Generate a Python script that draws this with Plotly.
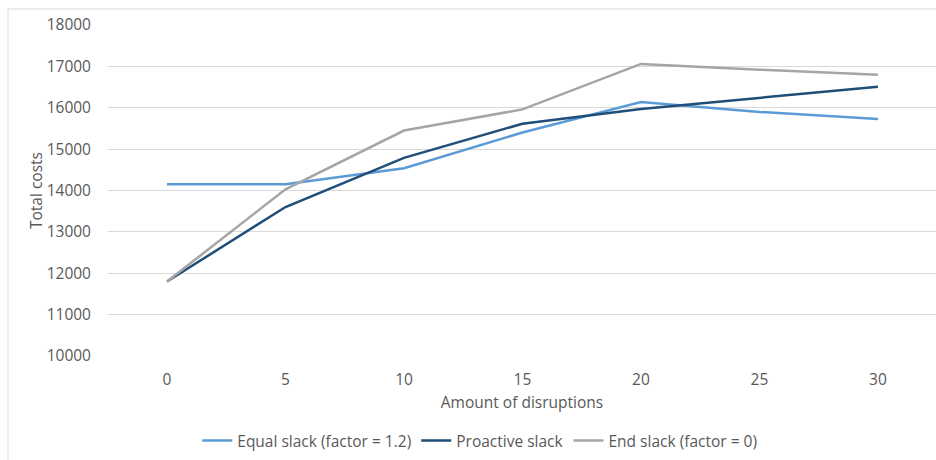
import plotly.graph_objects as go

disruptions = [0, 5, 10, 15, 20, 25, 30]
equal_slack = [14150, 14150, 14540, 15400, 16140, 15900, 15730]
proactive_slack = [11800, 13600, 14790, 15615, 15970, 16240, 16510]
end_slack = [11800, 14030, 15450, 15960, 17060, 16920, 16800]

series = [
    ("Equal slack (factor = 1.2)", equal_slack, "#5B9BD5"),
    ("Proactive slack", proactive_slack, "#1F4E79"),
    ("End slack (factor = 0)", end_slack, "#A5A5A5"),
]

W, H = 936, 460
ml, mr, mt, mb = 108, 0, 25, 104
pw, ph = W - ml - mr, H - mt - mb

fig = go.Figure()
for name, vals, col in series:
    fig.add_trace(go.Scatter(x=disruptions, y=vals, mode="lines", name=name,
                             line=dict(color=col, width=2.5)))

font = "Open Sans, Liberation Sans, sans-serif"
fs = 15.5
fig.update_layout(
    width=W, height=H,
    margin=dict(l=ml, r=mr, t=mt, b=mb, autoexpand=False),
    paper_bgcolor="white", plot_bgcolor="white",
    font=dict(family=font, size=fs, color="#595959"),
    xaxis=dict(range=[-2.49, 32.45], tickvals=disruptions, showgrid=False,
               zeroline=False, showline=False, ticks="", automargin=False,
               ticklabelstandoff=12, tickfont=dict(size=fs),
               title=dict(text="Amount of disruptions", standoff=8,
                          font=dict(size=fs, color="#595959"))),
    yaxis=dict(range=[10000, 18000], dtick=1000, tickformat="d", showgrid=True,
               gridcolor="#d9d9d9", gridwidth=1, zeroline=False, showline=False,
               ticks="", ticklabelstandoff=16, tickfont=dict(size=fs),
               automargin=False,
               title=dict(text="Total costs", standoff=0,
                          font=dict(size=fs, color="#595959"))),
    legend=dict(orientation="h", x=0.449, xanchor="center",
                yref="container", y=(H - 441) / H, yanchor="middle",
                font=dict(size=fs, color="#595959"), itemwidth=30,
                tracegroupgap=0),
    showlegend=True,
)

# chart frame (top and left edges visible)
x_left = (8 - ml) / pw
y_top = (H - mb - 9) / ph
fig.add_shape(type="line", xref="paper", yref="paper", x0=x_left, x1=1.01,
              y0=y_top, y1=y_top, line=dict(color="#d9d9d9", width=1))
fig.add_shape(type="line", xref="paper", yref="paper", x0=x_left, x1=x_left,
              y0=y_top, y1=-0.5, line=dict(color="#d9d9d9", width=1))

fig.write_html("out.html")
